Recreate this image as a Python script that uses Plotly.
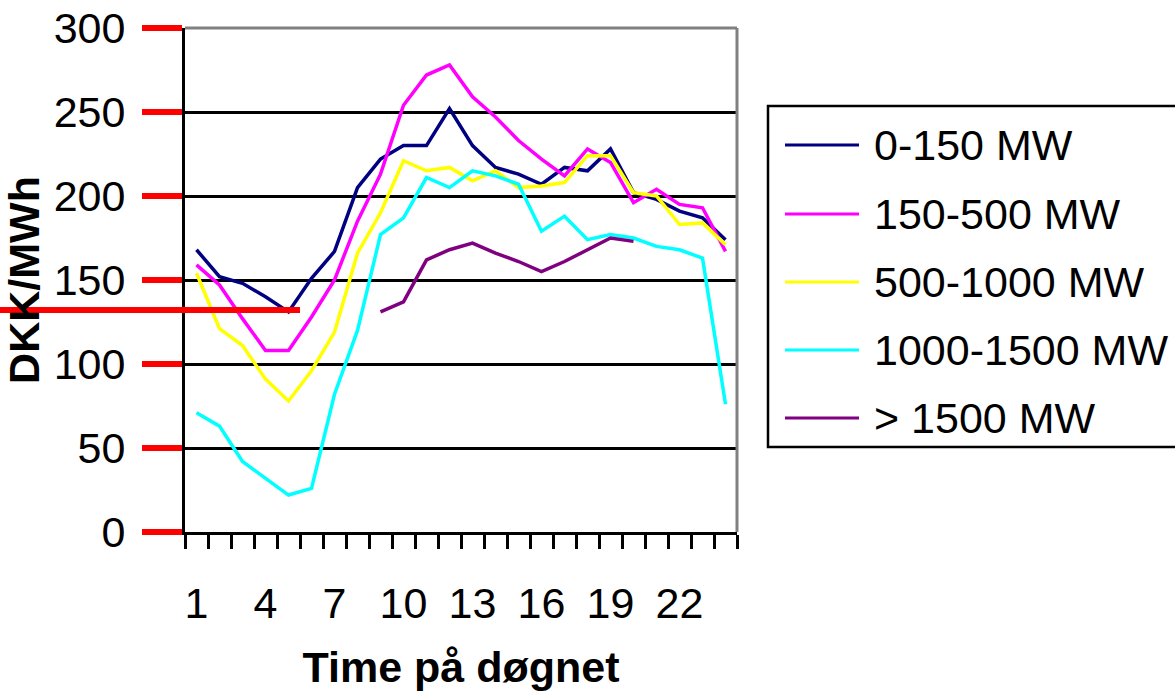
import plotly.graph_objects as go

hours = [1, 2, 3, 4, 5, 6, 7, 8, 9, 10, 11, 12, 13, 14, 15, 16, 17, 18, 19, 20, 21, 22, 23, 24]
tick_hours = [1, 4, 7, 10, 13, 16, 19, 22]
y_ticks = [0, 50, 100, 150, 200, 250, 300]
y_range = [0, 300]
x_range = [0.5, 24.5]

s_0_150 = [168, 152, 148, 140, 131, 151, 167, 205, 222, 230, 230, 252,
           230, 217, 213, 207, 217, 215, 228, 202, 198, 191, 187, 174]
s_150_500 = [159, 147, 127, 108, 108, 128, 150, 185, 213, 254, 272, 278,
             259, 247, 233, 222, 212, 228, 220, 196, 204, 195, 193, 167]
s_500_1000 = [154, 121, 111, 91, 78, 96, 119, 166, 190, 221, 215, 217,
              209, 215, 205, 206, 208, 224, 224, 202, 200, 183, 184, 171]
s_1000_1500 = [71, 63, 42, 32, 22, 26, 82, 120, 177, 187, 211, 205,
               215, 212, 207, 179, 188, 174, 177, 175, 170, 168, 163, 76]
s_over_1500 = [None, None, None, None, None, None, None, None, 131, 137, 162, 168,
               172, 166, 161, 155, 161, 168, 175, 173, None, None, None, None]

names = ["0-150 MW", "150-500 MW", "500-1000 MW", "1000-1500 MW", "> 1500 MW"]
series = [s_0_150, s_150_500, s_500_1000, s_1000_1500, s_over_1500]
colors = ["#000080", "#FF00FF", "#FFFF00", "#00FFFF", "#800080"]

W, H = 1175, 691
L, R, T, B = 185, 737, 28, 532
FONT = "Liberation Sans, Arial, sans-serif"
FS = 43
TICKLEN = 14


def px(x):
    return (x - L) / (R - L)


def py(y):
    return (B - y) / (B - T)


fig = go.Figure()
for name, vals, col in zip(names, series, colors):
    fig.add_trace(go.Scatter(x=hours, y=vals, name=name, mode="lines",
                             line=dict(color=col, width=3.5), connectgaps=False,
                             showlegend=False))

shapes = [
    dict(type="line", xref="paper", yref="paper", x0=0, x1=1, y0=1, y1=1,
         line=dict(color="#808080", width=3), layer="above"),
    dict(type="line", xref="paper", yref="paper", x0=1, x1=1, y0=0, y1=1,
         line=dict(color="#808080", width=3), layer="above"),
    dict(type="rect", xref="paper", yref="paper", x0=px(768), x1=px(1185),
         y0=py(447), y1=py(106), line=dict(color="black", width=2.5),
         fillcolor="white", layer="above"),
    # diagnostic red line
    dict(type="line", xref="paper", yref="paper", x0=px(0), x1=px(300),
         y0=py(310), y1=py(310), line=dict(color="red", width=6), layer="above"),
]

annotations = []
rows = [145, 214, 282, 350, 418]
for name, col, ry in zip(names, colors, rows):
    shapes.append(dict(type="line", xref="paper", yref="paper", x0=px(785), x1=px(859),
                       y0=py(ry), y1=py(ry), line=dict(color=col, width=3), layer="above"))
    annotations.append(dict(xref="paper", yref="paper", x=px(872), y=py(ry),
                            text=name, showarrow=False, xanchor="left", yanchor="middle",
                            font=dict(family=FONT, size=FS, color="black")))

fig.update_layout(
    width=W, height=H,
    margin=dict(l=L, r=W - R, t=T, b=H - B, autoexpand=False),
    paper_bgcolor="white", plot_bgcolor="white",
    font=dict(family=FONT, size=FS, color="black"),
    shapes=shapes, annotations=annotations,
    showlegend=False,
)
fig.update_xaxes(
    range=x_range, tickmode="array", tickvals=tick_hours,
    ticktext=[str(h) for h in tick_hours],
    ticks="", showgrid=False, zeroline=False,
    showline=True, linecolor="black", linewidth=3,
    ticklabelstandoff=31,
    minor=dict(tick0=0.5, dtick=1, ticks="outside", ticklen=TICKLEN, tickwidth=2.5,
               tickcolor="black", showgrid=False),
    title=dict(text="Time på døgnet", font=dict(family=FONT, size=FS, weight="bold"),
               standoff=37),
)
fig.update_yaxes(
    range=y_range, tickmode="array", tickvals=y_ticks,
    ticktext=[str(v) for v in y_ticks],
    ticks="outside", ticklen=40, tickwidth=6, tickcolor="red",
    showline=True, linecolor="black", linewidth=3,
    showgrid=True, gridcolor="black", gridwidth=2.5, zeroline=False,
    ticklabelstandoff=8,
    title=dict(text="DKK/MWh", font=dict(family=FONT, size=FS, weight="bold"),
               standoff=30),
)

fig.write_html("out.html")
